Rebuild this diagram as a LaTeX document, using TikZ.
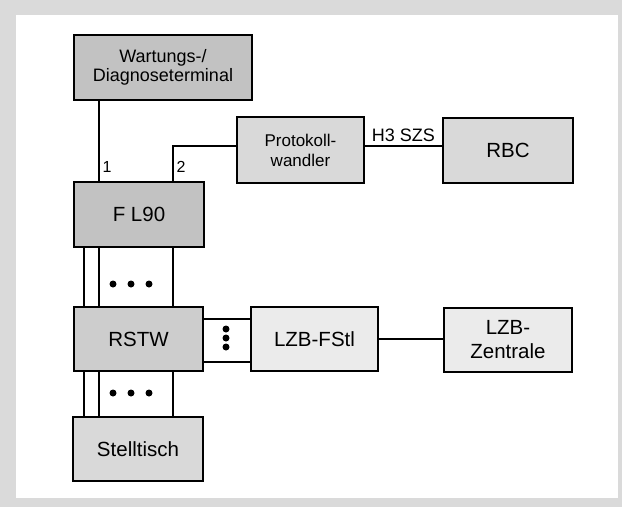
\documentclass[tikz,border=0pt]{standalone}
\usepackage{fontspec}
\setmainfont{Liberation Sans}
\definecolor{scan}{HTML}{DADADA}
\definecolor{fdark}{HTML}{C2C2C2}
\definecolor{fmid}{HTML}{CDCDCD}
\definecolor{flight}{HTML}{D9D9D9}
\definecolor{fpale}{HTML}{EBEBEB}
\tikzset{
  blk/.style={draw=black, line width=2.6pt, inner sep=0pt, align=center,
    font=\fontsize{20.5}{24}\selectfont},
  conn/.style={draw=black, line width=2.1pt},
  pt/.style={font=\fontsize{16}{18}\selectfont, inner sep=0pt},
  dotc/.style={fill=black, circle, inner sep=0pt, minimum size=7pt},
}
\begin{document}
\begin{tikzpicture}[x=1pt, y=-1pt]
\useasboundingbox (0,0) rectangle (622,507);
\fill[scan] (0,0) rectangle (622,507);
\fill[white] (16,15) rectangle (618,498);

% boxes
\node[blk, fill=fdark, minimum width=178pt, minimum height=65pt,
  font=\fontsize{18}{19}\selectfont] (wart) at (163,67.5) {Wartungs-/\\Diagnoseterminal};
\node[blk, fill=flight, minimum width=127pt, minimum height=66pt,
  font=\fontsize{17}{20}\selectfont] (prot) at (300.5,150) {Protokoll-\\wandler};
\node[blk, fill=flight, minimum width=130pt, minimum height=65pt] (rbc) at (508,150.5) {RBC};
\node[blk, fill=fdark, minimum width=130pt, minimum height=65pt] (fl) at (139,214.5) {F L90};
\node[blk, fill=fmid, minimum width=129pt, minimum height=64pt] (rstw) at (138.5,339) {RSTW};
\node[blk, fill=fpale, minimum width=127pt, minimum height=64pt] (lzbf) at (314.5,339) {LZB-FStl};
\node[blk, fill=fpale, minimum width=128pt, minimum height=64pt,
  font=\fontsize{20.5}{24}\selectfont] (lzbz) at (508,340) {LZB-\\Zentrale};
\node[blk, fill=flight, minimum width=130pt, minimum height=64pt] (stell) at (138,449) {Stelltisch};

% reference coordinates for connector columns / rows
\coordinate (ca) at (84,0);
\coordinate (cb) at (99,0);
\coordinate (cc) at (173,0);
\coordinate (ra) at (0,319);
\coordinate (rb) at (0,362);

% connectors
\draw[conn] (wart.south -| cb) -- (fl.north -| cb);
\draw[conn] (fl.north -| cc) |- ([yshift=4pt]prot.west);
\draw[conn] ([yshift=4pt]prot.east) -- ([yshift=4pt]prot.east -| rbc.west)
  node[midway, above=3pt, font=\fontsize{18}{20}\selectfont, inner sep=0pt] (h3) {H3 SZS};
\node[pt] (l1) at (107,167) {1};
\node[pt] (l2) at (181,167) {2};

\foreach \c in {ca,cb,cc}{
  \draw[conn] (fl.south -| \c) -- (rstw.north -| \c);
  \draw[conn] (rstw.south -| \c) -- (stell.north -| \c);
}
\draw[conn] (rstw.east |- ra) -- (lzbf.west |- ra);
\draw[conn] (rstw.east |- rb) -- (lzbf.west |- rb);
\draw[conn] (lzbf.east) -- (lzbf.east -| lzbz.west);

% dots
\foreach \x in {113,131,149}{
  \node[dotc] (du\x) at (\x,284) {};
  \node[dotc] (dd\x) at (\x,393) {};
}
\foreach \y in {329,338,347}{
  \node[dotc] (dv\y) at (226,\y) {};
}
\end{tikzpicture}
\end{document}
